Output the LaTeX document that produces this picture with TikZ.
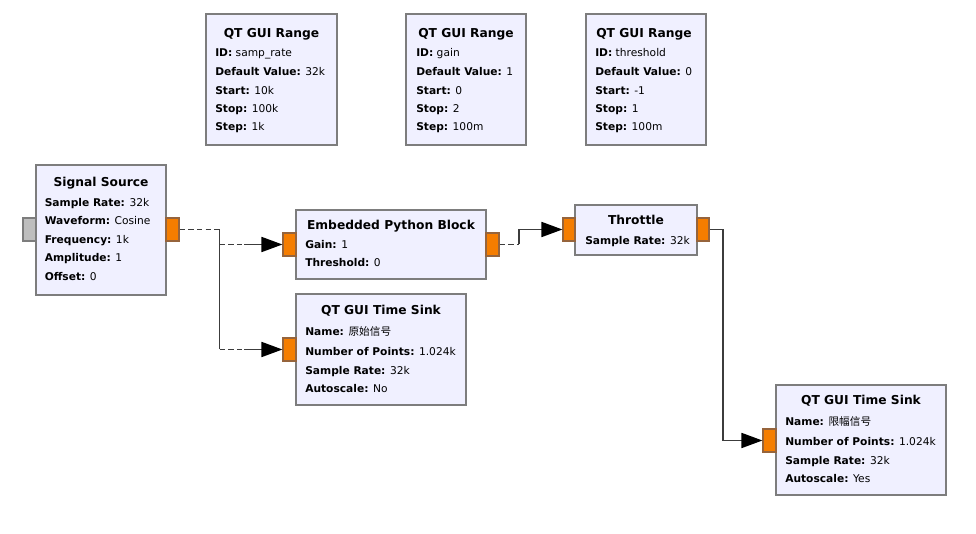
\documentclass[tikz,border=0pt]{standalone}
\usepackage{fontspec}
\setmainfont{DejaVu Sans}
\newfontfamily\cjk{Noto Sans CJK SC}
\usetikzlibrary{fit,arrows.meta}
\definecolor{blkfill}{RGB}{240,240,255}
\definecolor{blkdraw}{RGB}{125,125,125}
\definecolor{portfill}{RGB}{245,125,0}
\definecolor{portdraw}{RGB}{150,100,60}
\definecolor{grayport}{RGB}{190,190,190}
\definecolor{wire}{RGB}{60,60,60}
\begin{document}
\begin{tikzpicture}[x=0.75pt,y=-0.75pt,
  blk/.style={draw=blkdraw,fill=blkfill,line width=1.2pt,inner sep=0pt},
  oport/.style={draw=portdraw,fill=portfill,line width=0.8pt,inner sep=0pt},
  gport/.style={draw=blkdraw,fill=grayport,line width=0.8pt,inner sep=0pt},
  ttl/.style={anchor=base,inner sep=0pt,font=\fontsize{9.2pt}{10pt}\selectfont\bfseries},
  lbl/.style={anchor=base west,inner sep=0pt,font=\fontsize{8pt}{9pt}\selectfont},
  wireline/.style={draw=wire,line width=1.3pt},
  dashwire/.style={wireline,dash pattern=on 4pt off 2.5pt},
  arr/.style={wireline,-{Triangle[length=15.75pt,width=11.25pt,black]}}
]
\useasboundingbox (0,0) rectangle (976,534);

% ---------- QT GUI Range boxes ----------
\node[blk,fit={(206,14) (337,145)}] (r1) {};
\node[ttl] (r1t) at (271.5,37.5) {QT GUI Range};
\node[lbl] (r1a) at (215,56.2) {\textbf{ID:} samp\_rate};
\node[lbl] (r1b) at (215,75.2) {\textbf{Default Value:} 32k};
\node[lbl] (r1c) at (215,94.2) {\textbf{Start:} 10k};
\node[lbl] (r1d) at (215,112.5) {\textbf{Stop:} 100k};
\node[lbl] (r1e) at (215,130.8) {\textbf{Step:} 1k};

\node[blk,fit={(406,14) (526,145)}] (r2) {};
\node[ttl] (r2t) at (466,37.5) {QT GUI Range};
\node[lbl] (r2a) at (416,56.2) {\textbf{ID:} gain};
\node[lbl] (r2b) at (416,75.2) {\textbf{Default Value:} 1};
\node[lbl] (r2c) at (416,94.2) {\textbf{Start:} 0};
\node[lbl] (r2d) at (416,112.5) {\textbf{Stop:} 2};
\node[lbl] (r2e) at (416,130.8) {\textbf{Step:} 100m};

\node[blk,fit={(586,14) (706,145)}] (r3) {};
\node[ttl] (r3t) at (644,37.5) {QT GUI Range};
\node[lbl] (r3a) at (595,56.2) {\textbf{ID:} threshold};
\node[lbl] (r3b) at (595,75.2) {\textbf{Default Value:} 0};
\node[lbl] (r3c) at (595,94.2) {\textbf{Start:} -1};
\node[lbl] (r3d) at (595,112.5) {\textbf{Stop:} 1};
\node[lbl] (r3e) at (595,130.8) {\textbf{Step:} 100m};

% ---------- Signal Source ----------
\node[blk,fit={(36,165) (166,295)}] (ss) {};
\node[gport,fit={(23,218) (36,241)}] (ssin) {};
\node[oport,fit={(166,218) (179,241)}] (ssout) {};
\node[ttl] (sst) at (101,187) {Signal Source};
\node[lbl] (ssa) at (44.5,206.5) {\textbf{Sample Rate:} 32k};
\node[lbl] (ssb) at (44.5,225) {\textbf{Waveform:} Cosine};
\node[lbl] (ssc) at (44.5,243.5) {\textbf{Frequency:} 1k};
\node[lbl] (ssd) at (44.5,262) {\textbf{Amplitude:} 1};
\node[lbl] (sse) at (44.5,280.5) {\textbf{Offset:} 0};

% ---------- Embedded Python Block ----------
\node[blk,fit={(296,210) (486,279)}] (emb) {};
\node[oport,fit={(283,233) (296,256)}] (embin) {};
\node[oport,fit={(486,233) (499,256)}] (embout) {};
\node[ttl] (embt) at (391,229.7) {Embedded Python Block};
\node[lbl] (emba) at (305,248.5) {\textbf{Gain:} 1};
\node[lbl] (embb) at (305,266.8) {\textbf{Threshold:} 0};

% ---------- Throttle ----------
\node[blk,fit={(575,205) (697,255)}] (th) {};
\node[oport,fit={(563,218) (575,241)}] (thin) {};
\node[oport,fit={(697,218) (709,241)}] (thout) {};
\node[ttl] (tht) at (636,224.7) {Throttle};
\node[lbl] (tha) at (585,244.2) {\textbf{Sample Rate:} 32k};

% ---------- QT GUI Time Sink 1 ----------
\node[blk,fit={(296,294) (466,405)}] (sk1) {};
\node[oport,fit={(283,338) (296,361)}] (sk1in) {};
\node[ttl] (sk1t) at (381,314.7) {QT GUI Time Sink};
\node[lbl] (sk1a) at (305,335.2) {\textbf{Name:} {\cjk 原始信号}};
\node[lbl] (sk1b) at (305,355.2) {\textbf{Number of Points:} 1.024k};
\node[lbl] (sk1c) at (305,374.2) {\textbf{Sample Rate:} 32k};
\node[lbl] (sk1d) at (305,392.5) {\textbf{Autoscale:} No};

% ---------- QT GUI Time Sink 2 ----------
\node[blk,fit={(776,385) (946,495)}] (sk2) {};
\node[oport,fit={(763,429) (776,452)}] (sk2in) {};
\node[ttl] (sk2t) at (861,404.7) {QT GUI Time Sink};
\node[lbl] (sk2a) at (785,425.8) {\textbf{Name:} {\cjk 限幅信号}};
\node[lbl] (sk2b) at (785,445.2) {\textbf{Number of Points:} 1.024k};
\node[lbl] (sk2c) at (785,464.2) {\textbf{Sample Rate:} 32k};
\node[lbl] (sk2d) at (785,482.5) {\textbf{Autoscale:} Yes};

% ---------- connectors ----------
\coordinate (j1) at (219.5,229.5);
\coordinate (j2) at (244,0);
\coordinate (j3) at (519,0);
\coordinate (j4) at (723,0);

% Signal Source -> Embedded Python Block / Time Sink 1
\draw[dashwire] (ssout.east) -- (j1);
\draw[wireline] (j1) -- (j1 |- sk1in.west);
\draw[dashwire] (j1 |- embin.west) -- (j2 |- embin.west);
\draw[arr] (j2 |- embin.west) -- (embin.west);
\draw[dashwire] (j1 |- sk1in.west) -- (j2 |- sk1in.west);
\draw[arr] (j2 |- sk1in.west) -- (sk1in.west);

% Embedded Python Block -> Throttle
\draw[dashwire] (embout.east) -- (j3 |- embout.east);
\draw[arr] (j3 |- embout.east) -- (j3 |- thin.west) -- (thin.west);

% Throttle -> Time Sink 2
\draw[arr] (thout.east) -- (j4 |- thout.east) -- (j4 |- sk2in.west) -- (sk2in.west);
\end{tikzpicture}
\end{document}
